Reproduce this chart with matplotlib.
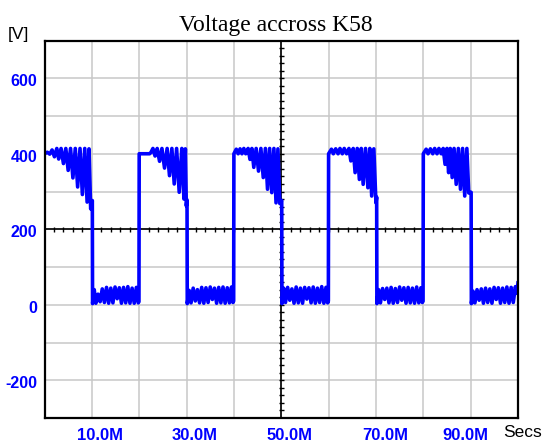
import numpy as np
import matplotlib
matplotlib.use("Agg")
import matplotlib.pyplot as plt
from matplotlib.transforms import ScaledTranslation

# ---------------- data (time in "M" units, voltage in V) ----------------
high1_t = [0.0, 0.6, 1.1, 1.6, 2.1, 2.6, 3.0, 3.5, 4.0, 4.5, 5.0, 5.5, 6.0, 6.5, 7.0, 7.5, 8.0, 8.5, 9.0, 9.4, 9.75, 10.1]
high1_v = [400, 404, 399, 410, 392, 414, 386, 414, 374, 414, 356, 414, 336, 414, 312, 414, 292, 414, 272, 413, 254, 276]

low1_t = [10.15, 10.5, 10.85, 11.3, 11.75, 12.2, 12.65, 13.1, 13.55, 14.0, 14.45, 14.9, 15.35, 15.8, 16.25, 16.7, 17.15, 17.6, 18.05, 18.5, 18.95, 19.4, 19.8, 19.95]
low1_v = [3, 40, 4, 28, 8, 42, 6, 46, 4, 44, 5, 47, 16, 45, 4, 46, 5, 48, 4, 44, 4, 46, 5, 8]

high2_t = [20.0, 22.2, 22.5, 22.9, 23.35, 23.8, 24.3, 24.8, 25.35, 25.9, 26.4, 26.9, 27.4, 27.9, 28.45, 29.0, 29.45, 29.75, 29.95, 30.1]
high2_v = [400, 400, 404, 414, 394, 414, 380, 414, 362, 414, 342, 414, 320, 414, 298, 414, 280, 413, 262, 278]

low2_t = [30.15, 30.55, 30.95, 31.4, 31.85, 32.3, 32.75, 33.2, 33.65, 34.1, 34.55, 35.0, 35.45, 35.9, 36.35, 36.8, 37.25, 37.7, 38.15, 38.6, 39.05, 39.5, 39.8, 39.95]
low2_v = [3, 38, 5, 44, 10, 40, 5, 46, 4, 45, 6, 47, 14, 44, 4, 46, 5, 47, 4, 45, 5, 47, 6, 10]

high3_t = [40.0, 40.5, 40.9, 41.3, 41.7, 42.1, 42.5, 43.0, 43.4, 43.8, 44.2, 44.7, 45.2, 45.7, 46.2, 46.65, 47.1, 47.55, 48.0, 48.45, 48.9, 49.3, 49.7, 50.1]
high3_v = [400, 412, 400, 413, 400, 414, 400, 414, 385, 414, 364, 414, 354, 414, 337, 414, 306, 414, 297, 414, 270, 413, 268, 276]

low3_t = [50.15, 50.5, 50.9, 51.35, 51.8, 52.25, 52.7, 53.15, 53.6, 54.05, 54.5, 54.95, 55.4, 55.85, 56.3, 56.75, 57.2, 57.65, 58.1, 58.55, 59.0, 59.45, 59.8, 59.95]
low3_v = [3, 44, 6, 46, 12, 42, 4, 47, 5, 44, 4, 46, 15, 45, 5, 47, 4, 44, 6, 48, 4, 46, 5, 10]

high4_t = [60.0, 60.6, 61.0, 61.5, 62.0, 62.4, 62.9, 63.3, 63.8, 64.3, 64.7, 65.2, 65.6, 66.05, 66.5, 66.9, 67.3, 67.8, 68.3, 68.7, 69.1, 69.55, 70.0, 70.15]
high4_v = [400, 412, 400, 413, 400, 414, 400, 414, 400, 414, 381, 414, 350, 414, 332, 414, 319, 414, 310, 414, 288, 413, 270, 285]

low4_t = [70.2, 70.55, 70.95, 71.4, 71.85, 72.3, 72.75, 73.2, 73.65, 74.1, 74.55, 75.0, 75.45, 75.9, 76.35, 76.8, 77.25, 77.7, 78.15, 78.6, 79.05, 79.5, 79.8, 79.95]
low4_v = [3, 40, 5, 43, 14, 44, 5, 46, 4, 43, 6, 47, 12, 45, 4, 46, 5, 44, 4, 47, 5, 45, 6, 10]

high5_t = [80.0, 80.6, 81.0, 81.5, 82.0, 82.4, 82.9, 83.3, 83.8, 84.2, 84.6, 85.0, 85.35, 85.7, 86.1, 86.5, 86.95, 87.4, 87.85, 88.3, 88.75, 89.2, 89.6, 90.1]
high5_v = [400, 412, 400, 413, 400, 414, 400, 414, 400, 414, 372, 414, 350, 414, 337, 414, 319, 414, 306, 414, 288, 414, 296, 298]

low5_t = [90.15, 90.5, 90.9, 91.35, 91.8, 92.25, 92.7, 93.15, 93.6, 94.05, 94.5, 94.95, 95.4, 95.85, 96.3, 96.75, 97.2, 97.65, 98.1, 98.55, 99.0, 99.45, 99.8, 100.0]
low5_v = [3, 36, 5, 40, 12, 42, 4, 44, 6, 42, 4, 46, 14, 45, 4, 44, 6, 47, 4, 46, 6, 48, 30, 58]

x_tick_vals = [10, 30, 50, 70, 90]
x_tick_labels = ["10.0M", "30.0M", "50.0M", "70.0M", "90.0M"]
y_tick_vals = [600, 400, 200, 0, -200]
y_tick_labels = ["600", "400", "200", "0", "-200"]

title = "Voltage accross K58"
y_unit = "[V]"
x_unit = "Secs"

# ---------------- figure ----------------
W, H = 547, 442
fig = plt.figure(figsize=(W / 100, H / 100), dpi=100)
L, R, T, B = 44.5, 518, 40.5, 418
ax = fig.add_axes([L / W, 1 - B / H, (R - L) / W, (B - T) / H])
ax.set_xlim(0, 100)
ax.set_ylim(-300, 700)

blue = "#0000ff"
grid_c = "#c8c8c8"

# grid
for gx in np.arange(10, 100, 10):
    ax.axvline(gx, color=grid_c, lw=1.1, zorder=1)
for gy in np.arange(-200, 700, 100):
    ax.axhline(gy, color=grid_c, lw=1.1, zorder=1)

# crosshair with minor ticks
ax.axhline(200, color="black", lw=1.2, zorder=2)
ax.axvline(50, color="black", lw=1.2, zorder=2)
ax.vlines(np.arange(2, 100, 2), 193, 207, color="black", lw=1.0, zorder=2)
ax.hlines(np.arange(-280, 700, 20), 49.45, 50.55, color="black", lw=1.0, zorder=2)

# signal
t_all = high1_t + low1_t + high2_t + low2_t + high3_t + low3_t + high4_t + low4_t + high5_t + low5_t
v_all = high1_v + low1_v + high2_v + low2_v + high3_v + low3_v + high4_v + low4_v + high5_v + low5_v
ax.plot(t_all, v_all, color=blue, lw=2.6, solid_joinstyle="round", zorder=3, clip_on=True)

# ticks and labels
ax.set_yticks(y_tick_vals)
ax.set_yticklabels(y_tick_labels)
ax.set_xticks(x_tick_vals)
ax.set_xticklabels(x_tick_labels)
ax.tick_params(axis="both", length=0)
ax.tick_params(axis="y", pad=5)
ax.tick_params(axis="x", pad=7)
for lbl in ax.get_yticklabels():
    lbl.set_fontfamily("Liberation Sans")
    lbl.set_fontweight("bold")
    lbl.set_fontsize(11.5)
    lbl.set_color(blue)
    lbl.set_transform(lbl.get_transform() + ScaledTranslation(0, -2 / 100, fig.dpi_scale_trans))
x_label_shift_px = [8, 8.5, 8.7, 9.4, -5.4]
for lbl, dx in zip(ax.get_xticklabels(), x_label_shift_px):
    lbl.set_fontfamily("Liberation Sans")
    lbl.set_fontweight("bold")
    lbl.set_fontsize(12)
    lbl.set_color(blue)
    lbl.set_transform(lbl.get_transform() + ScaledTranslation(dx / 100, 0, fig.dpi_scale_trans))

for s in ax.spines.values():
    s.set_linewidth(1.6)
    s.set_color("black")
    s.set_zorder(5)

fig.text(276 / W, 1 - 31 / H, title, family="Liberation Serif", fontsize=17,
         ha="center", va="baseline", color="black")
fig.text(8 / W, 1 - 38.5 / H, y_unit, family="Liberation Sans", fontsize=12.5,
         ha="left", va="baseline", color="black")
fig.text(503 / W, 1 - 437 / H, x_unit, family="Liberation Sans", fontsize=12.5,
         ha="left", va="baseline", color="black")

fig.savefig("out.png", dpi=100)
